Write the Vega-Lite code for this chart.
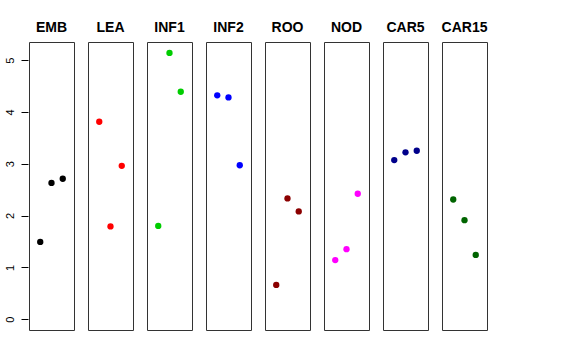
{
  "$schema": "https://vega.github.io/schema/vega-lite/v6.json",
  "background": "white",
  "padding": {"left": 4, "top": 21, "right": 5, "bottom": 5},
  "data": {"values": [
    {"panel": "EMB", "x": 1, "y": 1.49}, {"panel": "EMB", "x": 2, "y": 2.63}, {"panel": "EMB", "x": 3, "y": 2.71},
    {"panel": "LEA", "x": 1, "y": 3.81}, {"panel": "LEA", "x": 2, "y": 1.79}, {"panel": "LEA", "x": 3, "y": 2.96},
    {"panel": "INF1", "x": 1, "y": 1.80}, {"panel": "INF1", "x": 2, "y": 5.14}, {"panel": "INF1", "x": 3, "y": 4.39},
    {"panel": "INF2", "x": 1, "y": 4.32}, {"panel": "INF2", "x": 2, "y": 4.28}, {"panel": "INF2", "x": 3, "y": 2.97},
    {"panel": "ROO", "x": 1, "y": 0.66}, {"panel": "ROO", "x": 2, "y": 2.33}, {"panel": "ROO", "x": 3, "y": 2.08},
    {"panel": "NOD", "x": 1, "y": 1.14}, {"panel": "NOD", "x": 2, "y": 1.35}, {"panel": "NOD", "x": 3, "y": 2.42},
    {"panel": "CAR5", "x": 1, "y": 3.07}, {"panel": "CAR5", "x": 2, "y": 3.22}, {"panel": "CAR5", "x": 3, "y": 3.25},
    {"panel": "CAR15", "x": 1, "y": 2.31}, {"panel": "CAR15", "x": 2, "y": 1.91}, {"panel": "CAR15", "x": 3, "y": 1.24}
  ]},
  "facet": {
    "column": {
      "field": "panel", "type": "nominal",
      "sort": ["EMB", "LEA", "INF1", "INF2", "ROO", "NOD", "CAR5", "CAR15"],
      "title": null,
      "header": {"labelFontWeight": "bold", "labelFontSize": 14, "labelFont": "Liberation Sans", "labelColor": "black", "labelPadding": 6}
    }
  },
  "spacing": 12,
  "spec": {
    "width": 45,
    "height": 288,
    "mark": {"type": "point", "filled": true, "size": 40, "opacity": 1},
    "encoding": {
      "x": {"field": "x", "type": "quantitative", "scale": {"domain": [0, 4], "nice": false, "zero": false}, "axis": null},
      "y": {"field": "y", "type": "quantitative", "scale": {"domain": [-0.21, 5.35], "nice": false, "zero": false},
        "axis": {"title": null, "values": [0, 1, 2, 3, 4, 5], "tickSize": 7, "domain": false, "grid": false, "labelAngle": 270,
          "labelAlign": "center", "labelBaseline": "bottom", "labelPadding": 6, "labelFont": "Liberation Sans", "labelFontSize": 11, "labelColor": "black", "tickColor": "black"}},
      "color": {"field": "panel", "type": "nominal",
        "scale": {"domain": ["EMB", "LEA", "INF1", "INF2", "ROO", "NOD", "CAR5", "CAR15"],
          "range": ["#000000", "#ff0000", "#00cd00", "#0000ff", "#8b0000", "#ff00ff", "#00008b", "#006400"]},
        "legend": null}
    }
  },
  "config": {"view": {"stroke": "#333333", "strokeWidth": 1}}
}
